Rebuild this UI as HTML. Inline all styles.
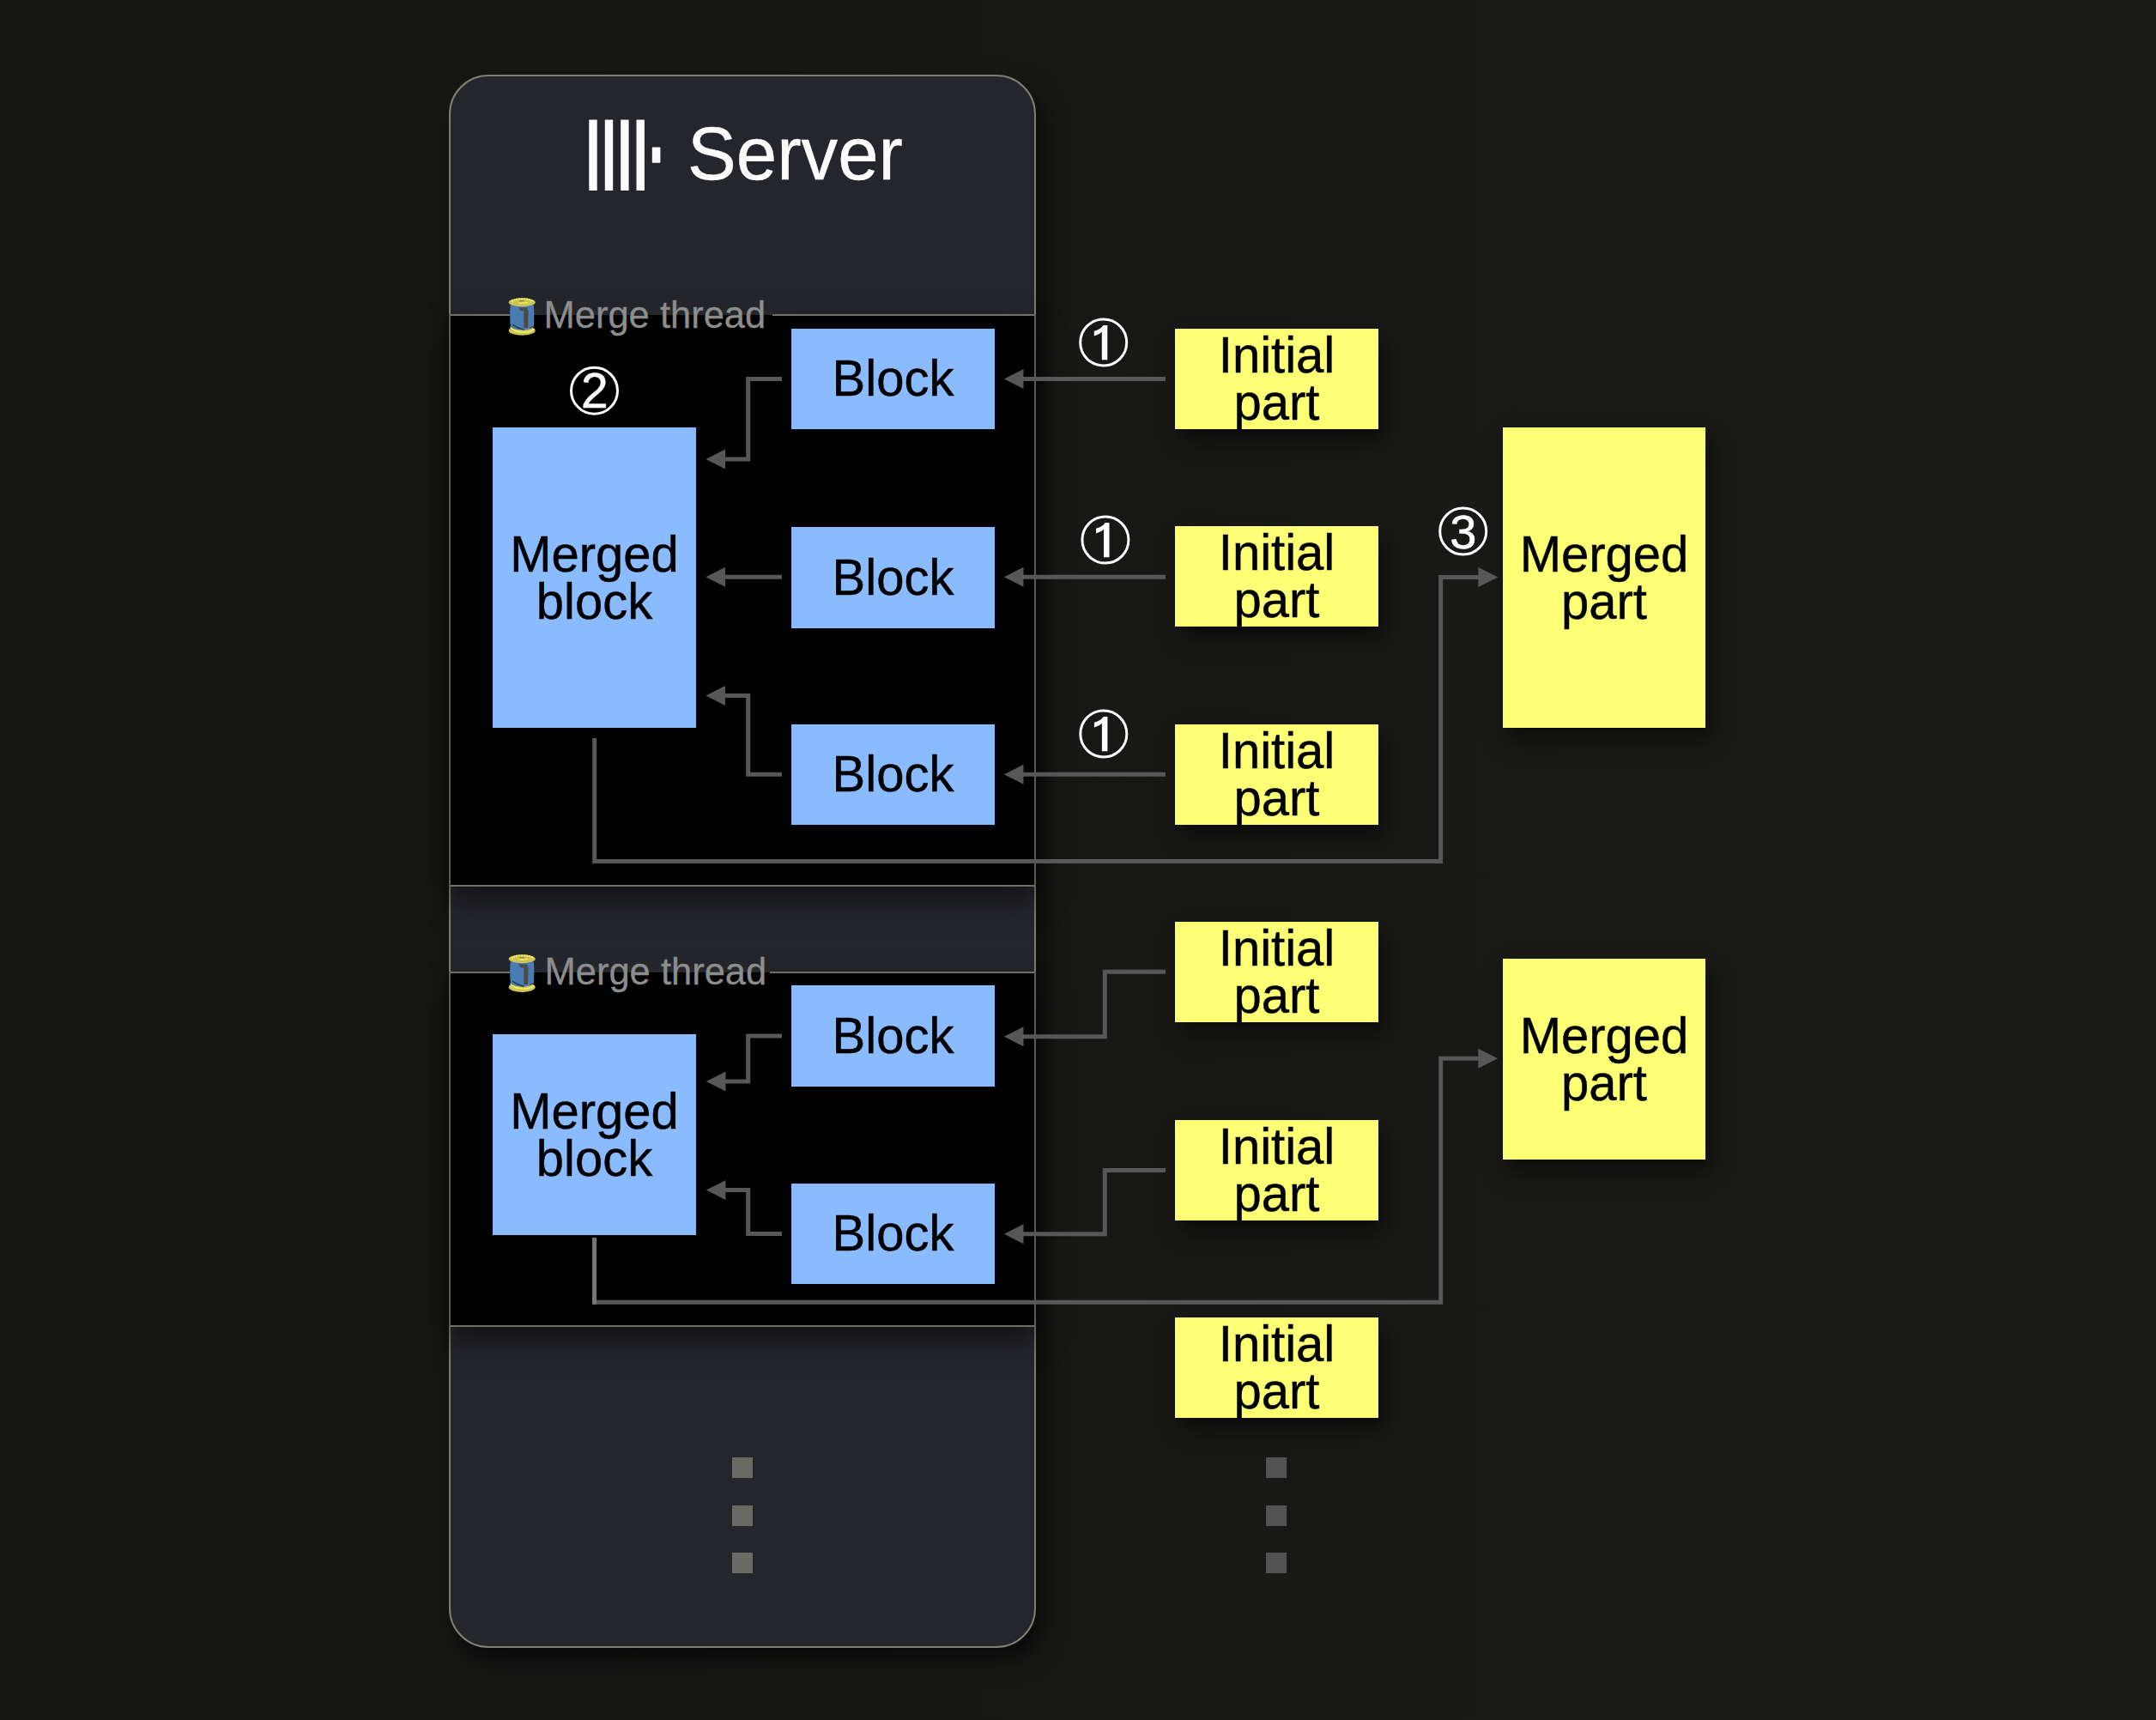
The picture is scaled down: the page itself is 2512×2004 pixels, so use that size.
<!DOCTYPE html>
<html>
<head>
<meta charset="utf-8">
<title>Merge threads diagram</title>
<style>
  html, body { margin: 0; padding: 0; }
  body {
    width: 2512px; height: 2004px; overflow: hidden; position: relative;
    background: linear-gradient(90deg, #141413 0%, #1b1b19 100%);
    font-family: "Liberation Sans", sans-serif;
  }
  .abs { position: absolute; }
  #server {
    left: 523px; top: 87px; width: 684px; height: 1833px;
    box-sizing: border-box;
    background: #25262c;
    border: 2px solid #7e7e73;
    border-radius: 46px;
    box-shadow: 9px 14px 26px rgba(0,0,0,0.6);
  }
  .panel {
    left: 523px; width: 684px; box-sizing: border-box;
    background: #000;
    border: 2px solid #6f6f66;
    border-left-color: #5a5a54; border-right-color: #5a5a54;
    box-shadow: 0 18px 30px rgba(0,0,0,0.5);
  }
  #title {
    left: 801px; top: 128.8px; font-size: 85.2px; line-height: 100px; color: #fcfcfc; white-space: nowrap;
    transform-origin: 0 50%; transform: scaleY(1.02); -webkit-text-stroke: 0.4px #fcfcfc;
  }
  .mt {
    font-size: 43.5px; line-height: 50px; color: #8d8d8d; white-space: nowrap;
    transform-origin: 0 50%; transform: scaleY(1.04); -webkit-text-stroke: 0.3px #8d8d8d;
  }
  .box {
    display: flex; align-items: center; justify-content: center; text-align: center;
    font-size: 58px; line-height: 54px; color: #000; overflow: hidden;
    box-shadow: 7px 14px 22px rgba(0,0,0,0.5);
  }
  .box span { display: block; line-height: 52.5px; transform: translateY(-0.6px) scaleY(1.03); -webkit-text-stroke: 0.45px #000; }
  .blue { background: #8abbff; }
  .yellow { background: #fdff74; }
  .dot { width: 24px; height: 24px; }
  svg { position: absolute; left: 0; top: 0; overflow: visible; }
</style>
</head>
<body>

<div id="server" class="abs"></div>

<!-- logo -->
<svg width="2512" height="2004" viewBox="0 0 2512 2004" style="z-index:1">
  <g fill="#fcfcfc">
    <rect x="686.3" y="139.5" width="9.4" height="82.5"/>
    <rect x="704.8" y="139.5" width="9.4" height="82.5"/>
    <rect x="723.2" y="139.5" width="9.4" height="82.5"/>
    <rect x="741.5" y="139.5" width="9.4" height="82.5"/>
    <rect x="759.8" y="171.6" width="9.6" height="18.2" rx="1"/>
  </g>
</svg>
<div id="title" class="abs">Server</div>

<!-- panels -->
<div class="abs panel" style="top:366px;height:667px"></div>
<div class="abs panel" style="top:1132px;height:414px"></div>

<!-- label gap covers -->
<div class="abs" style="left:594px;top:360px;width:305.5px;height:7px;background:#25262c"></div>
<div class="abs" style="left:594px;top:367px;width:305.5px;height:4px;background:#000"></div>
<div class="abs" style="left:594px;top:1126px;width:302.5px;height:7.5px;background:#26272d"></div>
<div class="abs" style="left:594px;top:1133px;width:302.5px;height:4px;background:#000"></div>

<div class="abs mt" style="left:633.5px;top:340.9px">Merge thread</div>
<div class="abs mt" style="left:634.5px;top:1105.8px">Merge thread</div>

<!-- blue blocks -->
<div class="abs box blue" style="left:922px;top:383px;width:237px;height:117px"><span>Block</span></div>
<div class="abs box blue" style="left:922px;top:614px;width:237px;height:118px"><span>Block</span></div>
<div class="abs box blue" style="left:922px;top:844px;width:237px;height:117px"><span>Block</span></div>
<div class="abs box blue" style="left:574px;top:498px;width:237px;height:350px"><span>Merged<br>block</span></div>
<div class="abs box blue" style="left:922px;top:1148px;width:237px;height:118px"><span>Block</span></div>
<div class="abs box blue" style="left:922px;top:1379px;width:237px;height:117px"><span>Block</span></div>
<div class="abs box blue" style="left:574px;top:1205px;width:237px;height:234px"><span>Merged<br>block</span></div>

<!-- yellow parts -->
<div class="abs box yellow" style="left:1369px;top:383px;width:237px;height:117px"><span>Initial<br>part</span></div>
<div class="abs box yellow" style="left:1369px;top:613px;width:237px;height:117px"><span>Initial<br>part</span></div>
<div class="abs box yellow" style="left:1369px;top:844px;width:237px;height:117px"><span>Initial<br>part</span></div>
<div class="abs box yellow" style="left:1369px;top:1074px;width:237px;height:117px"><span>Initial<br>part</span></div>
<div class="abs box yellow" style="left:1369px;top:1305px;width:237px;height:117px"><span>Initial<br>part</span></div>
<div class="abs box yellow" style="left:1369px;top:1535px;width:237px;height:117px"><span>Initial<br>part</span></div>
<div class="abs box yellow" style="left:1751px;top:498px;width:236px;height:350px"><span>Merged<br>part</span></div>
<div class="abs box yellow" style="left:1751px;top:1117px;width:236px;height:234px"><span>Merged<br>part</span></div>

<!-- dots -->
<div class="abs dot" style="left:853px;top:1698px;background:#6a6a64"></div>
<div class="abs dot" style="left:853px;top:1754px;background:#6a6a64"></div>
<div class="abs dot" style="left:853px;top:1809px;background:#6a6a64"></div>
<div class="abs dot" style="left:1475px;top:1698px;background:#525252"></div>
<div class="abs dot" style="left:1475px;top:1754px;background:#525252"></div>
<div class="abs dot" style="left:1475px;top:1809px;background:#525252"></div>

<!-- arrows, circles, spools -->
<svg width="2512" height="2004" viewBox="0 0 2512 2004" style="z-index:5">
  <defs>
    <g id="spool">
      <ellipse cx="15.5" cy="37.8" rx="15.5" ry="5.8" fill="#cfc656"/>
      <path d="M2 33.5 C5 38 12 39.5 17 39.7 C22 39.8 27 38.5 29.5 36" stroke="#f4f26a" stroke-width="1.6" fill="none"/>
      <path d="M2 8 C1.3 17 1.3 27 2.3 33.5 C6 38.6 25 38.6 29.2 33.5 C29.8 27 29.8 17 29.2 8 Z" fill="#487cb2"/>
      <path d="M11.5 11 L22.5 11.4 L21 13 L23 14.8 L22.3 34.8 L17.6 34.8 L17.6 15.4 L13.6 14.8 Z" fill="#4b4b4d"/>
      <path d="M4.5 30.8 C8 33.5 12 35.8 18 36.9" stroke="#33363c" stroke-width="1.4" fill="none"/>
      <path d="M24.6 35.3 L29.5 32.4" stroke="#55524a" stroke-width="1.3" fill="none"/>
      <ellipse cx="15.5" cy="5" rx="15.5" ry="5" fill="#cdc455"/>
      <path d="M3 4.5 C6 1.6 12 0.9 16 0.9 C21 0.9 26 1.8 29 4" stroke="#f6f560" stroke-width="1.7" fill="none" stroke-dasharray="2.2 0.8"/>
      <path d="M11.5 5.2 C14 6 20 6 22.5 5" stroke="#f6f560" stroke-width="1.1" fill="none"/>
      <rect x="12.3" y="2.9" width="6" height="1.1" fill="#7c7a66"/>
    </g>
  </defs>

  <use href="#spool" x="592.7" y="347.2"/>
  <use href="#spool" x="592.7" y="1112.3"/>

  <g fill="none" stroke="#575757" stroke-width="5" stroke-linejoin="miter">
    <!-- initial part -> block (top) -->
    <path d="M1358 441.5 H1190"/>
    <path d="M1358 672.3 H1190"/>
    <path d="M1358 902.3 H1190"/>
    <!-- block -> merged block (top) -->
    <path d="M911 441.5 H871.7 V534.9 H842"/>
    <path d="M911 672.2 H842"/>
    <path d="M911 902.2 H871.7 V810.6 H842"/>
    <!-- merged block -> merged part (top) -->
    <path d="M692.65 860 V1003.5 H1678.6 V672.55 H1724"/>
    <!-- initial part -> block (bottom) -->
    <path d="M1358 1132.3 H1287.3 V1207.8 H1190"/>
    <path d="M1358 1363.5 H1287.3 V1437.8 H1190"/>
    <!-- block -> merged block (bottom) -->
    <path d="M911 1207.1 H871.7 V1260 H842"/>
    <path d="M911 1437.4 H871.7 V1386.6 H842"/>
    <!-- merged block -> merged part (bottom) -->
    <path d="M692.6 1442 V1517.3 H1678.7 V1233.3 H1724"/>
    <path d="M692.55 1442 V1519.8" stroke="#77756a"/>
  </g>
  <g fill="#575757">
    <!-- left pointing heads: tip x, back x+22.7 -->
    <path d="M1169.8 441.5 L1192.5 430 V453 Z"/>
    <path d="M1169.8 672.3 L1192.5 660.8 V683.8 Z"/>
    <path d="M1169.8 902.3 L1192.5 890.8 V913.8 Z"/>
    <path d="M822.3 534.9 L845 523.4 V546.4 Z"/>
    <path d="M822.3 672.2 L845 660.7 V683.7 Z"/>
    <path d="M822.3 810.6 L845 799.1 V822.1 Z"/>
    <path d="M1169.8 1207.8 L1192.5 1196.3 V1219.3 Z"/>
    <path d="M1169.8 1437.8 L1192.5 1426.3 V1449.3 Z"/>
    <path d="M822.8 1260 L845.5 1248.5 V1271.5 Z"/>
    <path d="M822.8 1386.6 L845.5 1375.1 V1398.1 Z"/>
    <!-- right pointing heads -->
    <path d="M1745.2 672.55 L1722.4 661 V684.1 Z"/>
    <path d="M1745 1233.3 L1722.3 1221.8 V1244.8 Z"/>
  </g>

  <!-- circled numbers -->
  <g fill="none" stroke="#fdfdfd" stroke-width="3">
    <circle cx="1285.7" cy="399" r="27"/>
    <circle cx="1287.9" cy="629" r="27"/>
    <circle cx="1285.8" cy="855" r="27"/>
    <circle cx="692.5" cy="455.2" r="27"/>
    <circle cx="1704.7" cy="619" r="27"/>
  </g>
  <g fill="#fdfdfd" stroke="#fdfdfd" stroke-width="0.5" font-family="Liberation Sans, sans-serif" font-size="57" text-anchor="middle">
    <path id="one" stroke="none" transform="translate(1285.7 399)" d="M4.6 -20 L-0.3 -20 C-2.5 -16.5 -6.5 -14.2 -10.9 -13.2 L-10.9 -7.5 C-7.5 -8.6 -4 -10.3 -1.9 -12.2 L-1.9 20.3 L4.6 20.3 Z"/>
    <path stroke="none" transform="translate(1287.9 629)" d="M4.6 -20 L-0.3 -20 C-2.5 -16.5 -6.5 -14.2 -10.9 -13.2 L-10.9 -7.5 C-7.5 -8.6 -4 -10.3 -1.9 -12.2 L-1.9 20.3 L4.6 20.3 Z"/>
    <path stroke="none" transform="translate(1285.8 855)" d="M4.6 -20 L-0.3 -20 C-2.5 -16.5 -6.5 -14.2 -10.9 -13.2 L-10.9 -7.5 C-7.5 -8.6 -4 -10.3 -1.9 -12.2 L-1.9 20.3 L4.6 20.3 Z"/>
    <text x="692.8" y="474.7">2</text>
    <text x="1704.8" y="639.4" font-size="56">3</text>
  </g>
</svg>

</body>
</html>
